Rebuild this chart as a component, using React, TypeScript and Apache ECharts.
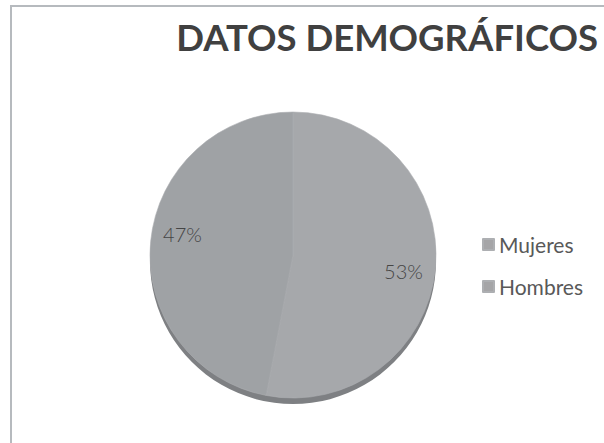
import React, { useEffect, useRef } from "react";
import * as echarts from "echarts";

const titleText = "DATOS DEMOGRÁFICOS";
const categories = ["Mujeres", "Hombres"];
const values = [53, 47];
const sliceColors = ["#a6a8ab", "#9fa2a5"];
const labelOffsets = [[-5, 5], [5, -10]];

export default function App() {
  const ref = useRef<HTMLDivElement>(null);
  useEffect(() => {
    if (!ref.current) return;
    const chart = echarts.init(ref.current, null, { renderer: "svg" });
    const data = categories.map((c, i) => ({
      name: c,
      value: values[i],
      itemStyle: { color: sliceColors[i] },
    }));
    chart.setOption({
      animation: false,
      backgroundColor: "#ffffff",
      title: {
        text: titleText,
        right: 1,
        top: 13,
        textStyle: {
          fontFamily: "Lato",
          fontWeight: "bold",
          fontSize: 36.5,
          color: "#404040",
        },
      },
      legend: {
        orient: "vertical",
        left: 477,
        top: 229,
        itemWidth: 11,
        itemHeight: 11,
        itemGap: 21,
        icon: "rect",
        data: categories.map((c) => ({ name: c, itemStyle: { color: "#a5a5a7" } })),
        textStyle: { fontFamily: "Lato", fontSize: 21, color: "#595959" },
        selectedMode: false,
      },
      graphic: [
        {
          type: "rect",
          shape: { x: 11, y: 6, width: 700, height: 600 },
          style: { fill: "none", stroke: "#b6babe", lineWidth: 2 },
          silent: true,
        },
      ],
      series: [
        {
          type: "pie",
          silent: true,
          center: [293, 261],
          radius: 143,
          z: 1,
          label: { show: false },
          labelLine: { show: false },
          data: [{ name: "sombra", value: 1, itemStyle: { color: "#7e8083" } }],
        },
        {
          type: "pie",
          silent: true,
          center: [293, 255],
          radius: 143,
          startAngle: 90,
          z: 2,
          itemStyle: { borderColor: "#adafb2", borderWidth: 0.6 },
          label: { show: false },
          labelLine: { show: false },
          data,
        },
        {
          type: "pie",
          silent: true,
          center: [293, 255],
          radius: [83, 143],
          startAngle: 90,
          z: 3,
          itemStyle: { color: "rgba(0,0,0,0)", borderWidth: 0 },
          label: {
            show: true,
            position: "inside",
            formatter: "{d}%",
            fontFamily: "Lato",
            fontWeight: 300,
            fontSize: 20,
            color: "#454545",
          },
          labelLine: { show: false },
          data: categories.map((c, i) => ({
            name: c,
            value: values[i],
            label: { offset: labelOffsets[i] },
          })),
        },
      ],
    });
    return () => chart.dispose();
  }, []);
  return (
    <div
      ref={ref}
      style={{ position: "fixed", left: 0, top: 0, width: 604, height: 443 }}
    />
  );
}
